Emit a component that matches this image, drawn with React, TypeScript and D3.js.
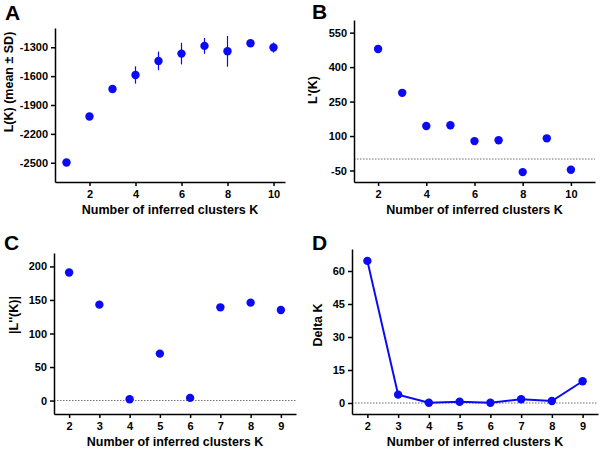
import React, { useRef, useEffect } from 'react';
import * as d3 from 'd3';

// values
const kA = [1, 2, 3, 4, 5, 6, 7, 8, 9, 10];
const meanLK = [-2497, -2020, -1733, -1588, -1442, -1366, -1286, -1342, -1258, -1303];
const sdLK = [8, 12, 15, 90, 97, 112, 82, 160, 15, 53];

const kB = [2, 3, 4, 5, 6, 7, 8, 9, 10];
const lPrime = [479, 288, 144, 147, 78, 82, -57, 90, -47];

const kC = [2, 3, 4, 5, 6, 7, 8, 9];
const lDouble = [191, 143, 2, 70, 4, 139, 146, 135];

const kD = [2, 3, 4, 5, 6, 7, 8, 9];
const deltaK = [64.6, 3.8, 0.1, 0.6, 0.1, 1.7, 0.9, 9.9];

const ticksA = [-2500, -2200, -1900, -1600, -1300];
const ticksB = [-50, 100, 250, 400, 550];
const ticksC = [0, 50, 100, 150, 200];
const ticksD = [0, 15, 30, 45, 60];
const xTicksEven = [2, 4, 6, 8, 10];
const xTicksAll = [2, 3, 4, 5, 6, 7, 8, 9];

const BLUE = '#0a0af5';
const FONT = '"Liberation Sans", Arial, sans-serif';

const App = () => {
  const svgRef = useRef(null);

  useEffect(() => {
    const svg = d3.select(svgRef.current);
    svg.selectAll('*').remove();

    const panels = [
      {
        letter: 'A', lx: 5, ly: 20,
        box: { left: 55, right: 285, top: 28, bottom: 182 },
        xDomain: [0.5, 10.5], yDomain: [-2700, -1100],
        xTicks: xTicksEven, yTicks: ticksA,
        ks: kA, vals: meanLK, sd: sdLK,
        yLabel: 'L(K) (mean \u00b1 SD)', yLabelX: 13, yLabelY: 82,
        zeroLine: false, line: false
      },
      {
        letter: 'B', lx: 312, ly: 19,
        box: { left: 354, right: 595, top: 20, bottom: 182 },
        xDomain: [1, 11], yDomain: [-100, 605],
        xTicks: xTicksEven, yTicks: ticksB,
        ks: kB, vals: lPrime, sd: null,
        yLabel: "L'(K)", yLabelX: 317, yLabelY: 90,
        zeroLine: true, line: false
      },
      {
        letter: 'C', lx: 4, ly: 250,
        box: { left: 54, right: 296, top: 253, bottom: 414 },
        xDomain: [1.5, 9.5], yDomain: [-20, 220],
        xTicks: xTicksAll, yTicks: ticksC,
        ks: kC, vals: lDouble, sd: null,
        yLabel: "|L''(K)|", yLabelX: 18, yLabelY: 315,
        zeroLine: true, line: false
      },
      {
        letter: 'D', lx: 312, ly: 250,
        box: { left: 352, right: 598, top: 249, bottom: 414 },
        xDomain: [1.5, 9.5], yDomain: [-5, 70],
        xTicks: xTicksAll, yTicks: ticksD,
        ks: kD, vals: deltaK, sd: null,
        yLabel: 'Delta K', yLabelX: 322, yLabelY: 325,
        zeroLine: true, line: true
      }
    ];

    panels.forEach(p => {
      const { left, right, top, bottom } = p.box;
      const x = d3.scaleLinear().domain(p.xDomain).range([left, right]);
      const y = d3.scaleLinear().domain(p.yDomain).range([bottom, top]);
      const g = svg.append('g');

      // panel letter
      g.append('text')
        .attr('x', p.lx).attr('y', p.ly)
        .style('font-family', FONT).style('font-weight', 'bold')
        .style('font-size', '21px')
        .text(p.letter);

      // dotted zero line
      if (p.zeroLine) {
        g.append('line')
          .attr('x1', left).attr('x2', right)
          .attr('y1', y(0)).attr('y2', y(0))
          .attr('stroke', '#444').attr('stroke-width', 0.8)
          .attr('stroke-dasharray', '1.5,1.5');
      }

      // axes - plain hyphen, no thousands separator
      const fmt = d => String(d);
      const yAxis = g.append('g')
        .attr('transform', `translate(${left},0)`)
        .call(d3.axisLeft(y).tickValues(p.yTicks).tickFormat(fmt).tickSize(4).tickPadding(3).tickSizeOuter(0));
      const xAxis = g.append('g')
        .attr('transform', `translate(0,${bottom})`)
        .call(d3.axisBottom(x).tickValues(p.xTicks).tickFormat(fmt).tickSize(4).tickPadding(4).tickSizeOuter(0));
      [yAxis, xAxis].forEach(ax => {
        ax.select('.domain').attr('stroke', '#000').attr('stroke-width', 1.5);
        ax.selectAll('.tick line').attr('stroke', '#000').attr('stroke-width', 1.5);
        ax.selectAll('.tick text')
          .attr('fill', '#000')
          .style('font-family', FONT).style('font-weight', 'bold')
          .style('font-size', '11px');
      });

      // axis titles
      g.append('text')
        .attr('x', (left + right) / 2).attr('y', bottom + 32)
        .attr('text-anchor', 'middle')
        .style('font-family', FONT).style('font-weight', 'bold')
        .style('font-size', '12.5px')
        .text('Number of inferred clusters K');
      g.append('text')
        .attr('transform', `translate(${p.yLabelX},${p.yLabelY}) rotate(-90)`)
        .attr('text-anchor', 'middle')
        .style('font-family', FONT).style('font-weight', 'bold')
        .style('font-size', '12.5px')
        .text(p.yLabel);

      // error bars
      if (p.sd) {
        g.selectAll('.err')
          .data(p.ks)
          .enter().append('line')
          .attr('x1', d => x(d)).attr('x2', d => x(d))
          .attr('y1', (d, i) => y(p.vals[i] - p.sd[i]))
          .attr('y2', (d, i) => y(p.vals[i] + p.sd[i]))
          .attr('stroke', BLUE).attr('stroke-width', 1.2);
      }

      // connecting line
      if (p.line) {
        const lineGen = d3.line().x(d => x(d[0])).y(d => y(d[1]));
        g.append('path')
          .datum(p.ks.map((k, i) => [k, p.vals[i]]))
          .attr('d', lineGen)
          .attr('fill', 'none')
          .attr('stroke', BLUE).attr('stroke-width', 2);
      }

      // points
      g.selectAll('.dot')
        .data(p.ks)
        .enter().append('circle')
        .attr('cx', d => x(d))
        .attr('cy', (d, i) => y(p.vals[i]))
        .attr('r', 4.2)
        .attr('fill', BLUE);
    });
  }, []);

  return (
    <svg
      ref={svgRef}
      width={600}
      height={450}
      style={{ position: 'absolute', left: 0, top: 0, background: '#fff' }}
    />
  );
};

export default App;
